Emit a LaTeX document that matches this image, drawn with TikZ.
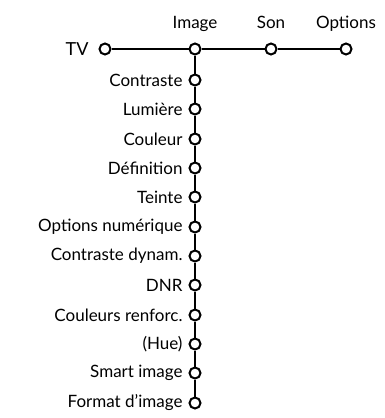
\documentclass[tikz,border=0pt]{standalone}
\usepackage{fontspec}
\setmainfont{Lato}
\usetikzlibrary{positioning}

\tikzset{
  dot/.style={circle, draw, line width=2pt, fill=white, inner sep=0pt, minimum size=11pt},
  item/.style={font=\fontsize{17}{19}\selectfont, inner sep=0pt, left=5pt of #1},
  head/.style={font=\fontsize{17}{19}\selectfont, inner sep=0pt, anchor=base}
}

\begin{document}
\begin{tikzpicture}[x=1pt, y=-1pt, line width=2pt]
					\useasboundingbox (0,0) rectangle (385,418);

					% top row
					\node[dot] (tv) at (105,49) {};
					\node[dot] (image) at (195,49) {};
					\node[dot] (son) at (271,49) {};
					\node[dot] (options) at (346,49) {};

					\node[font=\fontsize{18}{20}\selectfont, inner sep=0pt, left=9pt of tv] (tvlabel) {TV};
					\node[head] (imagelabel) at (195,28) {Image};
					\node[head] (sonlabel) at (271,28) {Son};
					\node[head] (optionslabel) at (346,28) {Options};

					% image menu
					\node[dot] (contraste) at (195,80) {};
					\node[dot] (lumiere) at (195,109) {};
					\node[dot] (couleur) at (195,139) {};
					\node[dot] (definition) at (195,168) {};
					\node[dot] (teinte) at (195,197) {};
					\node[dot] (numerique) at (195,227) {};
					\node[dot] (dynam) at (195,256) {};
					\node[dot] (dnr) at (195,285) {};
					\node[dot] (renforc) at (195,315) {};
					\node[dot] (hue) at (195,344) {};
					\node[dot] (smart) at (195,373) {};
					\node[dot] (format) at (195,403) {};

					\node[item=contraste] (contrastelabel) {Contraste};
					\node[item=lumiere] (lumierelabel) {Lumière};
					\node[item=couleur] (couleurlabel) {Couleur};
					\node[item=definition] (definitionlabel) {Définition};
					\node[item=teinte] (teintelabel) {Teinte};
					\node[item=numerique] (numeriquelabel) {Options numérique};
					\node[item=dynam] (dynamlabel) {Contraste dynam.};
					\node[item=dnr] (dnrlabel) {DNR};
					\node[item=renforc] (renforclabel) {Couleurs renforc.};
					\node[item=hue] (huelabel) {(Hue)};
					\node[item=smart] (smartlabel) {Smart image};
					\node[item=format] (formatlabel) {Format d’image};

					% connectors
					\draw (tv) -- (image) -- (son) -- (options);
					\draw (image) -- (contraste) -- (lumiere) -- (couleur) -- (definition) -- (teinte) -- (numerique) -- (dynam) -- (dnr) -- (renforc) -- (hue) -- (smart) -- (format);
				\end{tikzpicture}
\end{document}
